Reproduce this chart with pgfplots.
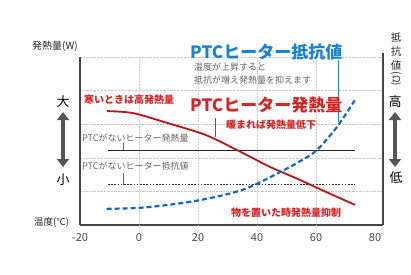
\documentclass[border=0pt]{standalone}
\usepackage{fontspec}
\setmainfont{Noto Sans CJK JP}
\usepackage{pgfplots}
\pgfplotsset{compat=1.18}
\usetikzlibrary{arrows.meta}
\definecolor{ptcblue}{RGB}{25,130,215}
\definecolor{lineblue}{RGB}{20,100,200}
\definecolor{ptcred}{RGB}{215,35,35}
\definecolor{linered}{RGB}{185,20,20}
\definecolor{txtgray}{RGB}{100,100,100}
\definecolor{axgray}{RGB}{70,70,70}
\definecolor{arrgray}{RGB}{85,85,85}
\newcommand{\fs}[1]{\fontsize{#1}{#1}\selectfont}
\begin{document}
\begin{tikzpicture}[x=1pt,y=1pt]
\useasboundingbox (0,0) rectangle (411,274);
\begin{axis}[at={(80pt,49pt)}, anchor=south west, scale only axis,
  width=303pt, height=168pt,
  xmin=-20, xmax=82.7, ymin=0, ymax=5,
  axis x line*=bottom, axis y line*=left,
  axis line style={axgray, line width=1.3pt},
  xtick={-20,0,20,40,60,80}, ytick={1,2,3,4,5}, yticklabels={},
  major tick length=0pt,
  ymajorgrids, grid style={densely dotted, gray!45, line width=0.6pt},
  xticklabel style={font=\fs{11}, text=axgray, yshift=-5pt},
  /pgf/number format/assume math mode=true,
  clip=false,
]
\foreach \xx in {0,20,40,60}{
  \edef\tmp{\noexpand\draw[densely dotted, gray!35, line width=0.5pt] (axis cs:\xx,0) -- (axis cs:\xx,5);}\tmp
}
\draw[axgray, line width=1.3pt] (rel axis cs:1,0) -- (rel axis cs:1,1.024);
% no-PTC heater output (solid) and resistance (dotted)
\addplot[black!85, line width=1.6pt] coordinates {(-10.5,2.22) (73.2,2.22)};
\addplot[black!85, line width=1.6pt, dash pattern=on 1.6pt off 1.6pt] coordinates {(-10.5,1.2) (73.2,1.2)};
% PTC heater output
\addplot[linered, line width=1.8pt, smooth] coordinates {
 (-10.8,3.39) (-2,3.33) (9.5,3.04) (20.7,2.74) (26.4,2.53) (36.6,2.08)
 (44.4,1.73) (54.6,1.34) (63,1.0) (73.2,0.6)};
% PTC heater resistance
\addplot[lineblue, line width=2.2pt, dash pattern=on 5pt off 3pt, smooth] coordinates {
 (-11,0.48) (0,0.51) (10,0.6) (20,0.73) (30,0.92) (37.6,1.13) (48.8,1.62)
 (55,1.92) (60.3,2.23) (67.1,2.92) (73.2,3.72)};
% leader lines
\draw[ptcblue, line width=1pt] (axis cs:67.5,4.91) -- (axis cs:67.5,3.07);
\draw[ptcred, line width=1pt] (axis cs:25.8,3.18) -- (axis cs:25.8,2.62);
\draw[txtgray, line width=0.6pt] (axis cs:-5.4,2.45) -- (axis cs:-5.4,2.22);
\draw[txtgray, line width=0.6pt] (axis cs:-5.4,1.55) -- (axis cs:-5.4,1.2);
\end{axis}
% left side
\node[anchor=west, inner sep=0pt, font=\fs{10}, text=black!85] at (32,228) {発熱量(W)};
\node[inner sep=0pt, font=\fs{13}] at (63,172) {大};
\node[inner sep=0pt, font=\fs{13}] at (63,94) {小};
\node[anchor=west, inner sep=0pt, font=\fs{9.5}, text=black!85] at (34,52) {温度(℃)};
\draw[arrgray, line width=4.5pt, {Triangle[width=12pt,length=8pt]}-{Triangle[width=12pt,length=8pt]}] (63,162) -- (63,107);
% right side
\node[inner sep=0pt, font=\fs{10.5}, text=black!85] at (396,236) {抵};
\node[inner sep=0pt, font=\fs{10.5}, text=black!85] at (396,222) {抗};
\node[inner sep=0pt, font=\fs{10.5}, text=black!85] at (396,208) {値};
\node[inner sep=0pt, font=\fs{10}, text=black!85, rotate=-90] at (396,195) {(Ω)};
\node[inner sep=0pt, font=\fs{13}] at (395,172) {高};
\node[inner sep=0pt, font=\fs{13}] at (396,96) {低};
\draw[arrgray, line width=4.5pt, {Triangle[width=12pt,length=8pt]}-{Triangle[width=12pt,length=8pt]}] (395,162) -- (395,107);
% annotations
\node[anchor=west, inner sep=0pt, font=\bfseries\fs{17}, text=ptcblue] at (190,222) {PTCヒーター抵抗値};
\node[anchor=west, inner sep=0pt, font=\fs{9}, text=txtgray] at (194,207) {温度が上昇すると};
\node[anchor=west, inner sep=0pt, font=\fs{9}, text=txtgray] at (194,194) {抵抗が増え発熱量を抑えます};
\node[anchor=west, inner sep=0pt, font=\bfseries\fs{17}, text=ptcred] at (190,169) {PTCヒーター発熱量};
\node[anchor=west, inner sep=0pt, font=\bfseries\fs{10}, text=ptcred] at (226,149) {暖まれば発熱量低下};
\node[anchor=west, inner sep=0pt, font=\bfseries\fs{10}, text=ptcred] at (84,174) {寒いときは高発熱量};
\node[anchor=west, inner sep=0pt, font=\fs{9}, text=txtgray] at (82,136) {PTCがないヒーター発熱量};
\node[anchor=west, inner sep=0pt, font=\fs{9}, text=txtgray] at (82,108) {PTCがないヒーター抵抗値};
\node[anchor=west, inner sep=0pt, font=\bfseries\fs{10}, text=ptcred] at (231,61) {物を置いた時発熱量抑制};
\end{tikzpicture}
\end{document}
